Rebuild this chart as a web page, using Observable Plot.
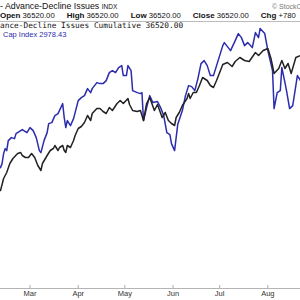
<!DOCTYPE html>
<html><head><meta charset="utf-8">
<script src="https://cdn.jsdelivr.net/npm/d3@7"></script>
<script src="https://cdn.jsdelivr.net/npm/@observablehq/plot@0.6"></script>
<style>
html,body{margin:0;padding:0;background:#fff;}
#wrap{position:relative;width:300px;height:300px;overflow:hidden;font-family:"Liberation Sans",Arial,sans-serif;color:#111;}
#wrap .layer{position:absolute;left:0;top:0;width:300px;height:300px;}
.t{position:absolute;white-space:nowrap;line-height:1;z-index:5;}
#l1{left:0;top:1.6px;font-size:8.8px;}
#l1 .s{font-size:6.5px;}
#copy{left:272px;top:2.5px;font-size:7px;color:#777;}
#l2{left:0;top:12.2px;font-size:7.7px;}
#l2 b{font-size:8px;}
#l2 b.g{margin-left:12px;}
#sep{position:absolute;left:0;top:21px;width:300px;height:1px;background:#bbb;z-index:4;}
#l3{left:0;top:22.4px;font-family:"DejaVu Sans Mono",monospace;font-size:7.8px;color:#111;}
#l4{left:3px;top:30.7px;font-size:7.5px;color:#2c2cae;}
</style></head><body>
<div id="wrap">
  <div id="blueLayer" class="layer"></div>
  <div id="blackLayer" class="layer"></div>
  <div id="l1" class="t"></div>
  <div id="copy" class="t"></div>
  <div id="l2" class="t"></div>
  <div id="sep"></div>
  <div id="l3" class="t"></div>
  <div id="l4" class="t"></div>
</div>
<script>
// ---- text ----
const titleText = "- Advance-Decline Issues";
const titleTag = "INDX";
const copyText = "© StockCharts.com";
const quoteLabels = ["Open", "High", "Low", "Close", "Chg"];
const quoteValues = ["36520.00", "36520.00", "36520.00", "36520.00", "+780"];
const seriesLabel = "ance-Decline Issues Cumulative 36520.00";
const compareLabel = "Cap Index 2978.43";

// ---- axis ----
const xDomain = ["2019-02-10", "2019-08-22"];
const monthTicks = ["2019-03-01", "2019-04-01", "2019-05-01", "2019-06-01", "2019-07-01", "2019-08-01"];
const monthLabels = ["Mar", "Apr", "May", "Jun", "Jul", "Aug"];
const blackDomain = [13220, 42020];
const blueDomain = [2146.43, 3298.43];

// ---- Advance-Decline cumulative (black) ----
const blackDates = ["2019-02-10","2019-02-12","2019-02-14","2019-02-16","2019-02-18","2019-02-21","2019-02-23","2019-02-24","2019-02-26","2019-02-28",
"2019-03-02","2019-03-04","2019-03-06","2019-03-08","2019-03-09","2019-03-12","2019-03-14","2019-03-16","2019-03-17","2019-03-19","2019-03-20","2019-03-22","2019-03-23","2019-03-24","2019-03-25","2019-03-27","2019-03-29","2019-03-30",
"2019-04-01","2019-04-03","2019-04-05","2019-04-07","2019-04-09","2019-04-10","2019-04-13","2019-04-15","2019-04-17","2019-04-19","2019-04-21","2019-04-23","2019-04-26","2019-04-28","2019-04-30",
"2019-05-03","2019-05-04","2019-05-06","2019-05-09","2019-05-11","2019-05-13","2019-05-15","2019-05-17","2019-05-20","2019-05-22","2019-05-25","2019-05-27","2019-05-29","2019-05-31",
"2019-06-02","2019-06-03","2019-06-05","2019-06-07","2019-06-10","2019-06-11","2019-06-12","2019-06-14","2019-06-16","2019-06-18","2019-06-20","2019-06-23","2019-06-25","2019-06-27","2019-06-29",
"2019-07-01","2019-07-03","2019-07-06","2019-07-09","2019-07-11","2019-07-14","2019-07-17","2019-07-20","2019-07-24","2019-07-26","2019-07-29",
"2019-08-01","2019-08-03","2019-08-05","2019-08-08","2019-08-10","2019-08-12","2019-08-14","2019-08-16","2019-08-19","2019-08-22"];
const blackValues = [23020,24220,24820,25720,26220,26720,26820,26520,26320,26320,
26720,26320,25520,25020,25720,26520,27020,27220,27520,27020,27320,27520,27020,26820,27520,27320,28020,28520,
29220,29420,29820,30520,30020,30720,31220,31220,30920,30720,31320,31020,31720,32020,31720,
32220,31620,31020,30920,31020,30020,31720,32320,31020,31620,30320,30820,30020,29720,
29520,30320,30820,31520,32220,32720,32220,32820,32820,33520,34320,34020,33520,33320,34020,
34820,35620,35820,35420,35920,36320,36020,35920,36820,36520,37020,
37220,36220,34720,35220,36020,35220,35720,34720,36320,36520];

// ---- Small Cap Index (blue) ----
const blueDates = ["2019-02-10","2019-02-11","2019-02-12","2019-02-13","2019-02-14","2019-02-15","2019-02-17","2019-02-19","2019-02-20","2019-02-23","2019-02-24","2019-02-27",
"2019-03-01","2019-03-03","2019-03-05","2019-03-07","2019-03-08","2019-03-10","2019-03-12","2019-03-13","2019-03-15","2019-03-17","2019-03-19","2019-03-22","2019-03-23","2019-03-24","2019-03-25","2019-03-27","2019-03-29","2019-03-30",
"2019-04-01","2019-04-03","2019-04-05","2019-04-07","2019-04-09","2019-04-10","2019-04-13","2019-04-15","2019-04-17","2019-04-19","2019-04-21","2019-04-23","2019-04-25","2019-04-27","2019-04-29","2019-04-30",
"2019-05-02","2019-05-03","2019-05-05","2019-05-06","2019-05-09","2019-05-11","2019-05-12","2019-05-13","2019-05-15","2019-05-17","2019-05-19","2019-05-22","2019-05-24","2019-05-26","2019-05-28","2019-05-30","2019-05-31",
"2019-06-02","2019-06-04","2019-06-07","2019-06-09","2019-06-11","2019-06-13","2019-06-15","2019-06-17","2019-06-19","2019-06-21","2019-06-23","2019-06-25","2019-06-27","2019-06-30",
"2019-07-03","2019-07-04","2019-07-08","2019-07-11","2019-07-13","2019-07-15","2019-07-17","2019-07-19","2019-07-22","2019-07-24","2019-07-26","2019-07-27","2019-07-30",
"2019-08-01","2019-08-04","2019-08-05","2019-08-07","2019-08-09","2019-08-10","2019-08-12","2019-08-13","2019-08-15","2019-08-17","2019-08-20","2019-08-22"];
const blueValues = [2630,2646,2686,2706,2698,2738,2750,2746,2766,2778,2782,2770,
2790,2778,2750,2698,2690,2738,2770,2806,2810,2838,2846,2886,2830,2790,2818,2798,2826,2850,
2898,2910,2918,2946,2930,2946,2970,2966,2966,2978,3010,3018,3010,3030,3038,2998,
2998,3038,3018,2938,2930,2926,2930,2818,2870,2918,2890,2894,2870,2838,2770,2762,2726,
2698,2802,2858,2918,2958,2954,2938,2986,3046,3058,3038,2998,2998,3058,
3118,3130,3098,3138,3166,3150,3118,3130,3110,3170,3150,3186,3166,
3098,3018,2866,2930,2938,3030,2970,2938,2866,2878,2998,2978.43];

const blackColor = "#222222";
const blueColor = "#2c2cae";

const parse = s => new Date(s + "T00:00:00Z");
const blackData = blackDates.map((d, i) => ({date: parse(d), value: blackValues[i]}));
const blueData = blueDates.map((d, i) => ({date: parse(d), value: blueValues[i]}));
const xDom = xDomain.map(parse);
const ticks = monthTicks.map(parse);

// header text
document.getElementById("l1").innerHTML = titleText + ' <span class="s">' + titleTag + '</span>';
document.getElementById("copy").textContent = copyText;
document.getElementById("l2").innerHTML = quoteLabels.map((l, i) =>
  `<b${i ? ' class="g"' : ''}>${l}</b> ${quoteValues[i]}`).join("");
document.getElementById("l3").textContent = seriesLabel;
document.getElementById("l4").textContent = compareLabel;

const common = {
  width: 300, height: 300,
  marginTop: 0, marginBottom: 12, marginLeft: 0, marginRight: 0
};

const bluePlot = Plot.plot({
  ...common,
  style: {background: "#fff"},
  x: {type: "utc", domain: xDom, axis: null},
  y: {domain: blueDomain, axis: null},
  marks: [
    Plot.line(blueData, {x: "date", y: "value", stroke: blueColor, strokeWidth: 1.5})
  ]
});
document.getElementById("blueLayer").append(bluePlot);

const blackPlot = Plot.plot({
  ...common,
  style: {background: "transparent", fontFamily: "'Liberation Sans', Arial, sans-serif", fontSize: "7.5px"},
  x: {type: "utc", domain: xDom},
  y: {domain: blackDomain, axis: null},
  marks: [
    Plot.ruleY([blackDomain[0]], {stroke: "#b4b4b4"}),
    Plot.axisX({ticks: ticks, tickFormat: d => monthLabels[ticks.findIndex(t => +t === +d)],
      tickSize: -3, tickPadding: 5, stroke: "#aaa", fill: "#333", fontSize: 7.5}),
    Plot.line(blackData, {x: "date", y: "value", stroke: blackColor, strokeWidth: 1.5})
  ]
});
document.getElementById("blackLayer").append(blackPlot);
</script>
</body></html>
